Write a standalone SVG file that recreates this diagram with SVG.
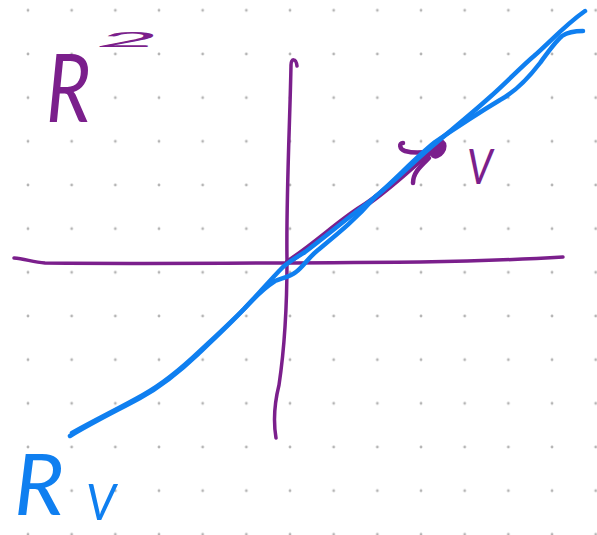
<svg xmlns="http://www.w3.org/2000/svg" width="597" height="535" viewBox="0 0 597 535">
  <style>
    .pu { fill: none; stroke: #7b1f8c; stroke-linecap: round; stroke-linejoin: round; }
    .bl { fill: none; stroke: #0f7ff0; stroke-linecap: round; stroke-linejoin: round; stroke-width: 4.5; }
    .lbl { font-family: Lato, "Liberation Sans", sans-serif; font-weight: 400; font-style: italic; }
  </style>
  <defs>
    <pattern id="dots" x="6.17" y="-11.5" width="43.67" height="43.67" patternUnits="userSpaceOnUse">
      <circle cx="21.83" cy="21.83" r="1.4" fill="#b4b4b4"/>
    </pattern>
  </defs>
  <rect width="597" height="535" fill="#ffffff"/>
  <rect width="597" height="535" fill="url(#dots)"/>

  <g id="axes">
    <path class="pu" stroke-width="3.5" d="M14,258 C25,259 33,262 45,263 C150,264 300,263 420,262 C480,261 530,259 563,257"/>
    <path class="pu" stroke-width="3.5" d="M297,66 C296,58 291,58 291,65 C290,120 286,200 287,260 C287,320 282,365 279,385 C274,405 273,420 276,438"/>
  </g>

  <g id="vector-v">
    <path class="pu" stroke-width="6" d="M288,262 C318,242 338,222 362,207 S 405,172 433,150"/>
    <ellipse cx="438" cy="149" rx="7.5" ry="10.5" transform="rotate(35 438 149)" fill="#7b1f8c"/>
    <path class="pu" stroke-width="4.5" d="M432,151 C422,153 412,153 405,151 C399,149 399,143 403,143"/>
    <path class="pu" stroke-width="4.5" d="M429,158 C422,165 413,172 413,183"/>
  </g>

  <g id="line-RV">
    <path class="bl" d="M70,436 C95,421 118,410 140,398 C160,387 178,373 198,354 C215,338 230,324 244,309 C256,297 268,282 283,267 C290,261 297,257 305,252 C325,237 345,220 365,205 C390,186 410,165 430,148 C450,131 470,115 490,97 C505,84 522,66 534,56 C550,42 565,25 585,11"/>
    <path class="bl" d="M72,433 C97,419 120,408 143,395 C163,384 180,370 200,351 C217,335 231,322 244,309 C254,298 264,288 275,281 C282,278 290,277 296,272 C303,267 308,258 318,250 C340,232 355,220 375,197 C395,180 415,158 435,142 C460,125 480,112 500,100 C515,92 530,76 540,63 C548,52 555,42 562,36 C568,32 575,31 583,31"/>
  </g>

  <g id="labels">
    <text class="lbl" x="0" y="0" font-size="96" fill="#7b1f8c" transform="translate(46,122) scale(0.8,1)">R</text>
    <text class="lbl" x="0" y="0" font-size="34" fill="#7b1f8c" transform="translate(96,47) scale(3.2,0.6)">2</text>
    <text class="lbl" x="0" y="0" font-size="48" fill="#7b1f8c" transform="translate(467,184) scale(0.85,1)">V</text>
    <text class="lbl" x="0" y="0" font-size="86" fill="#0f7ff0" transform="translate(14,515) scale(1.0,1)">R</text>
    <text class="lbl" x="0" y="0" font-size="50" fill="#0f7ff0" transform="translate(86,520) scale(0.95,1)">V</text>
  </g>
</svg>
